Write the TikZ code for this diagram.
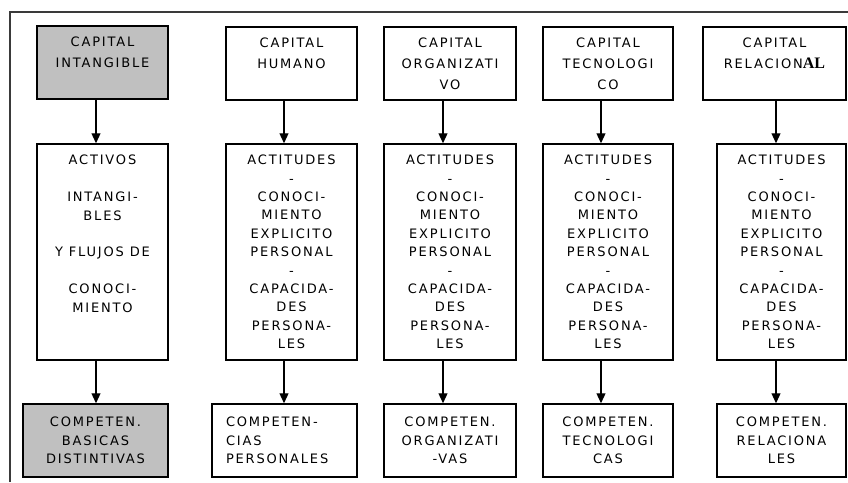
\documentclass[tikz,border=0pt]{standalone}
\usepackage{fontspec}
\setmainfont{DejaVu Sans}[LetterSpace=14]
\newfontfamily\alfont{Liberation Serif}
\usetikzlibrary{arrows.meta}
\definecolor{boxgray}{HTML}{C0C0C0}
\definecolor{framegray}{HTML}{3A3A3A}
\begin{document}
\begin{tikzpicture}[x=1pt,y=-1pt,
  box/.style={draw=black, line width=1.5pt, inner sep=0pt, align=center,
    font=\fontsize{13}{18.4}\selectfont},
  topbox/.style={box, minimum height=73pt, font=\fontsize{13}{20.8}\selectfont},
  midbox/.style={box, minimum height=216pt},
  botbox/.style={box, minimum height=73pt},
  shaded/.style={fill=boxgray},
  arr/.style={line width=1.2pt, -{Triangle[length=10pt,width=9pt]}},
  frameline/.style={line width=2pt, draw=framegray},
]
\useasboundingbox (0,0) rectangle (848,482);
\draw[frameline] (10,482) -- (10,12) -- (848,12);

% column 1
\node[topbox, shaded, minimum width=131pt] (t1) at (102.5,62.5) {CAPITAL\\INTANGIBLE\\~};
\node[midbox, minimum width=131pt] (m1) at (102.5,252) {ACTIVOS\\~\\INTANGI-\\BLES\\~\\Y FLUJOS DE\\~\\CONOCI-\\MIENTO\\~\\~};
\node[botbox, shaded, minimum width=145pt] (b1) at (95.5,440.5) {COMPETEN.\\BASICAS\\DISTINTIVAS};

% column 2
\node[topbox, minimum width=131pt] (t2) at (291.5,63.5) {CAPITAL\\HUMANO\\~};
\node[midbox, minimum width=131pt] (m2) at (291.5,252) {ACTITUDES\\-\\CONOCI-\\MIENTO\\EXPLICITO\\PERSONAL\\-\\CAPACIDA-\\DES\\PERSONA-\\LES};
\node[botbox, minimum width=145pt, text width=117pt, align=left] (b2) at (284.5,440.5) {COMPETEN-\\CIAS\\PERSONALES};

% column 3
\node[topbox, minimum width=132pt] (t3) at (450,63.5) {CAPITAL\\ORGANIZATI\\VO};
\node[midbox, minimum width=132pt] (m3) at (450,252) {ACTITUDES\\-\\CONOCI-\\MIENTO\\EXPLICITO\\PERSONAL\\-\\CAPACIDA-\\DES\\PERSONA-\\LES};
\node[botbox, minimum width=132pt] (b3) at (450,440.5) {COMPETEN.\\ORGANIZATI\\-VAS};

% column 4
\node[topbox, minimum width=130pt] (t4) at (608,63.5) {CAPITAL\\TECNOLOGI\\CO};
\node[midbox, minimum width=130pt] (m4) at (608,252) {ACTITUDES\\-\\CONOCI-\\MIENTO\\EXPLICITO\\PERSONAL\\-\\CAPACIDA-\\DES\\PERSONA-\\LES};
\node[botbox, minimum width=130pt] (b4) at (608,440.5) {COMPETEN.\\TECNOLOGI\\CAS};

% column 5
\node[topbox, minimum width=143pt] (t5) at (774.5,63.5) {CAPITAL\\RELACION{\alfont\fontsize{16}{16}\selectfont\bfseries AL}\\~};
\node[midbox, minimum width=129pt] (m5) at (781.5,252) {ACTITUDES\\-\\CONOCI-\\MIENTO\\EXPLICITO\\PERSONAL\\-\\CAPACIDA-\\DES\\PERSONA-\\LES};
\node[botbox, minimum width=129pt] (b5) at (781.5,440.5) {COMPETEN.\\RELACIONA\\LES};

% arrow columns
\coordinate (a1) at (96,0);
\coordinate (a2) at (284,0);
\coordinate (a3) at (443,0);
\coordinate (a4) at (601,0);
\coordinate (a5) at (776,0);

\foreach \i in {1,...,5}{
  \draw[arr] (t\i.south -| a\i) -- (m\i.north -| a\i);
  \draw[arr] (m\i.south -| a\i) -- (b\i.north -| a\i);
}
\end{tikzpicture}
\end{document}
